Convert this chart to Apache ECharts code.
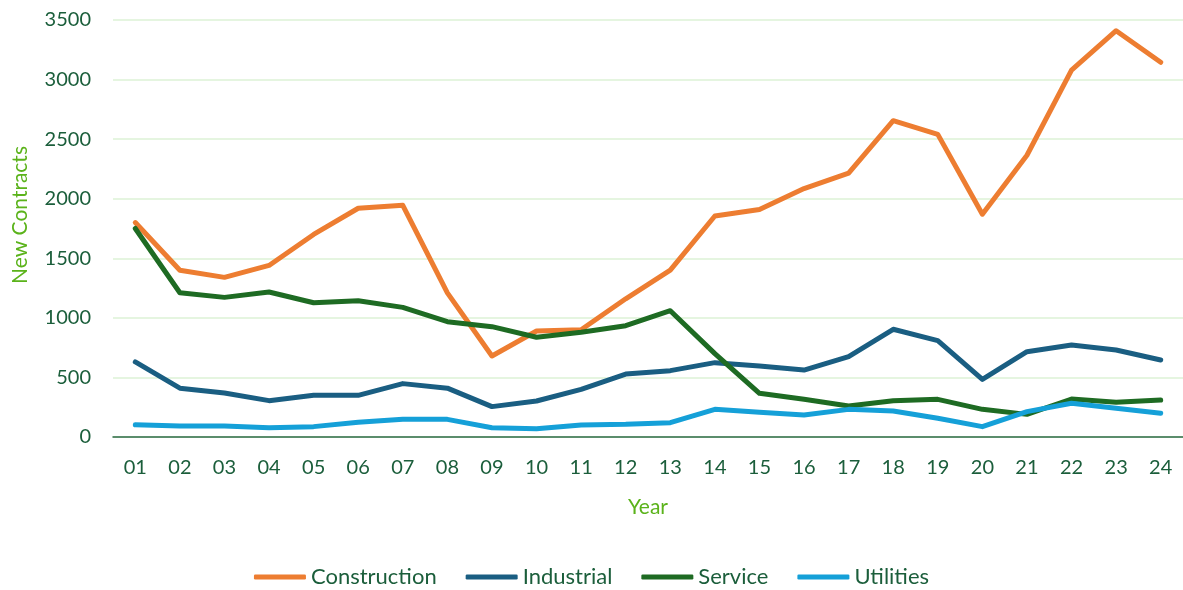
<!DOCTYPE html>
<html>
<head>
<meta charset="utf-8">
<script src="https://cdn.jsdelivr.net/npm/echarts@6/dist/echarts.min.js"></script>
<style>
  html, body { margin: 0; padding: 0; background: #fff; }
  #chart { width: 1183px; height: 590px; }
</style>
</head>
<body>
<div id="chart"></div>
<script>
const years = ["01","02","03","04","05","06","07","08","09","10","11","12","13","14","15","16","17","18","19","20","21","22","23","24"];
const construction = [1800,1400,1340,1440,1700,1920,1945,1210,680,890,900,1160,1400,1855,1910,2085,2215,2655,2540,1870,2365,3080,3410,3145];
const industrial = [630,410,370,305,350,350,448,410,255,302,400,528,557,624,596,562,674,904,809,484,716,772,730,646];
const service = [1750,1211,1172,1217,1127,1144,1088,968,926,837,879,934,1060,700,367,316,260,305,316,232,190,319,291,310];
const utilities = [103,92,92,78,87,123,148,148,78,70,101,106,120,232,207,185,232,218,157,87,213,283,241,199];

const font = "Lato, 'Open Sans', sans-serif";
const darkGreen = "#1B5E3B";
const lightGreen = "#5BB31B";

const chart = echarts.init(document.getElementById("chart"));

const mkLine = (name, data, color) => ({
    name, type: "line", data,
    symbol: "none",
    lineStyle: { width: 5, color, cap: "round", join: "round" },
    itemStyle: { color }
});

chart.setOption({
    animation: false,
    textStyle: { fontFamily: font },
    grid: { left: 113, right: -4, top: 20, bottom: 153 },
    legend: {
        bottom: 2,
        left: "center",
        padding: 0,
        itemWidth: 52,
        itemHeight: 5,
        itemGap: 29,
        icon: "roundRect",
        textStyle: { color: darkGreen, fontSize: 22, fontFamily: font },
        data: ["Construction", "Industrial", "Service", "Utilities"]
    },
    // y-axis title placed by hand, it sits a bit above the plot middle
    graphic: [{
        type: "text",
        x: 20, y: 215,
        rotation: Math.PI / 2,
        style: {
            text: "New Contracts",
            fill: lightGreen,
            font: "21px " + font,
            align: "center",
            verticalAlign: "middle"
        }
    }],
    xAxis: {
        type: "category",
        data: years,
        name: "Year",
        nameLocation: "middle",
        nameGap: 60,
        nameTextStyle: { color: lightGreen, fontSize: 21 },
        axisTick: { show: false },
        axisLine: { lineStyle: { color: "#2E6B45", width: 1.5 } },
        axisLabel: { color: darkGreen, fontSize: 20, margin: 21 }
    },
    yAxis: {
        type: "value",
        min: 0, max: 3500, interval: 500,
        axisLabel: { color: darkGreen, fontSize: 20, margin: 22, formatter: v => String(v) },
        splitLine: { lineStyle: { color: "#DDF2D6", width: 1.5 } }
    },
    series: [
        mkLine("Construction", construction, "#ED7D31"),
        mkLine("Industrial", industrial, "#1A5E82"),
        mkLine("Service", service, "#1E6B23"),
        mkLine("Utilities", utilities, "#15A0D8")
    ]
});
</script>
</body>
</html>
